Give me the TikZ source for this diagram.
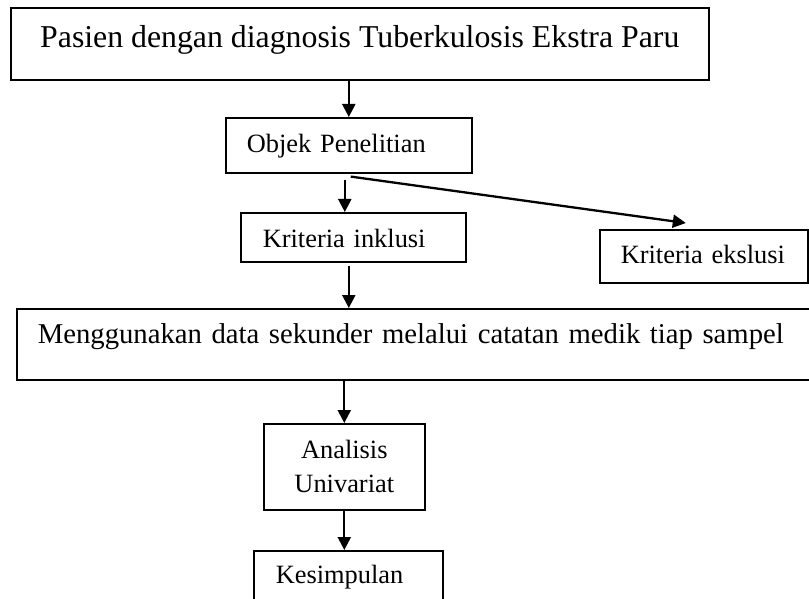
\documentclass[tikz,border=0pt]{standalone}
\usepackage{fontspec}
\setmainfont{Liberation Serif}
\usetikzlibrary{arrows.meta,calc,positioning}

\begin{document}
\begin{tikzpicture}[x=1pt,y=-1pt,>={Triangle[length=13pt,width=13pt]}]
  \tikzset{stepbox/.style={draw,line width=1.6pt,inner ysep=0pt,anchor=north west,font=\fontsize{26.4}{34}\selectfont},
    flow/.style={->,line width=2.3pt}}
  \useasboundingbox (0,0) rectangle (809,599);

  \node[stepbox,minimum width=698pt,text height=40pt,text depth=32pt,font=\fontsize{31.8}{38}\selectfont] (pasien) at (10,7) {Pasien dengan diagnosis Tuberkulosis Ekstra Paru};
  \node[stepbox,align=left,text width=204pt,inner xsep=21pt,text height=35pt,text depth=20pt] (objek) at (225,117) {\mbox{Objek Penelitian}};
  \node[stepbox,align=left,text width=181pt,inner xsep=22pt,text height=35pt,text depth=14pt] (inklusi) at (240,212) {\mbox{Kriteria inklusi}};
  \node[stepbox,align=left,text width=166pt,inner xsep=21pt,text height=34pt,text depth=19pt] (ekslusi) at (599,229) {\mbox{Kriteria ekslusi}};
  \node[stepbox,align=left,text width=757pt,inner xsep=21pt,text height=35pt,text depth=36pt,font=\fontsize{28.7}{35}\selectfont] (data) at (16,308) {\mbox{Menggunakan data sekunder melalui catatan medik tiap sampel}};
  \node[stepbox,align=center,text width=141pt,inner xsep=10pt,minimum height=86pt] (analisis) at (263,423) {Analisis\\Univariat};
  \node[stepbox,align=left,text width=145pt,inner xsep=22pt,text height=33pt,text depth=27pt] (kesimpulan) at (253,550) {\mbox{Kesimpulan}};

  \draw[flow] (pasien.south -| objek.north) -- (objek.north);
  \draw[flow] ([shift={(-4,6)}]objek.south) -- ([xshift=-4pt]objek.south |- inklusi.north);
  \draw[flow] ([shift={(2,3)}]objek.south) -- ([shift={(-18,-6)}]ekslusi.north);
  \draw[flow] ([shift={(-4.5,3)}]inklusi.south) -- ([xshift=-4.5pt]inklusi.south |- data.north);
  \draw[flow] (data.south -| analisis.north) -- (analisis.north);
  \draw[flow] (analisis.south) -- (analisis.south |- kesimpulan.north);
\end{tikzpicture}
\end{document}
